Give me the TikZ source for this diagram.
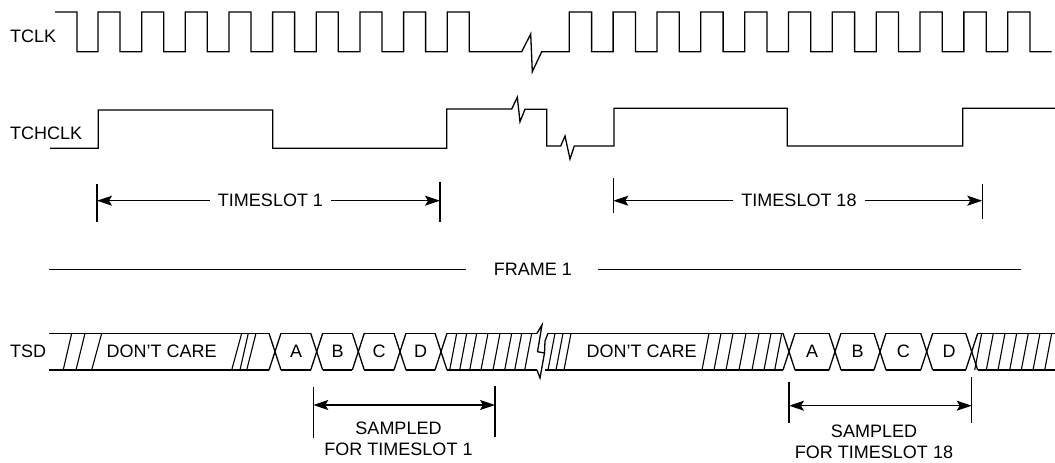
\documentclass[tikz,border=0pt]{standalone}
\usepackage{fontspec}
\setmainfont{Liberation Sans}
\usetikzlibrary{arrows.meta}
\tikzset{
  wave/.style={line width=1.3pt, line join=miter},
  thin/.style={line width=1.1pt},
  dimarrow/.style={line width=1.1pt, {Stealth[length=15pt,width=10pt,inset=3pt]}-{Stealth[length=15pt,width=10pt,inset=3pt]}},
  onearrow/.style={line width=1.1pt, -{Stealth[length=15pt,width=10pt,inset=3pt]}},
  lbl/.style={font=\fontsize{18}{21}\selectfont, inner sep=0pt},
  gaplbl/.style={font=\fontsize{18}{21}\selectfont, inner xsep=8pt, inner ysep=0pt}
}
\begin{document}
\begin{tikzpicture}[x=1pt,y=-1pt]
\useasboundingbox (0,0) rectangle (1055,463);

% ---------- labels ----------
\node[lbl, anchor=west] (tclk) at (10,36.7) {TCLK};
\node[lbl, anchor=west] (tchclk) at (10,133.3) {TCHCLK};
\node[lbl, anchor=west] (tsd) at (10,351.7) {TSD};

% ---------- TCLK ----------
\draw[wave] (55,12) -- (77,12) -- (77,51.7)
  \foreach \k in {0,...,8} {
    -- ({98+43.66*\k},51.7) -- ({98+43.66*\k},12)
    -- ({120+43.66*\k},12) -- ({120+43.66*\k},51.7) }
  -- (521.7,51.7) -- (530.7,34) -- (532.3,71.7) -- (541.7,51.7) -- (569.3,51.7)
  \foreach \k in {0,...,10} {
    -- ({569.3+43.84*\k},51.7) -- ({569.3+43.84*\k},12)
    -- ({591.6+43.84*\k},12) -- ({591.6+43.84*\k},51.7) }
  -- (1051.7,51.7);

% ---------- TCHCLK ----------
\draw[wave] (50,148.3) -- (98.3,148.3) -- (98.3,110) -- (272.7,110) -- (272.7,148.3)
  -- (446.7,148.3) -- (446.7,109) -- (511.7,109) -- (517.3,97.3) -- (520,121.7)
  -- (525,109.3) -- (546.7,109.3) -- (546.7,146) -- (560.7,146) -- (565,136)
  -- (570,159) -- (574.3,146) -- (614,146) -- (614,108.3) -- (787.3,108.3)
  -- (787.3,146) -- (962.7,146) -- (962.7,108.3) -- (1055,108.3);

% ---------- TIMESLOT 1 ----------
\coordinate (t1a) at (97,184);   \coordinate (t1b) at (97,222.3);
\coordinate (t1c) at (440,181.7); \coordinate (t1d) at (440,221.7);
\coordinate (t1l) at (97,200.7);  \coordinate (t1r) at (440,200.7);
\draw[thin] (t1a) -- (t1b);
\draw[thin] (t1c) -- (t1d);
\node[gaplbl] (ts1) at (270.5,200.7) {TIMESLOT 1};
\draw[onearrow] (ts1.west) -- (t1l);
\draw[onearrow] (ts1.east) -- (t1r);

% ---------- TIMESLOT 18 ----------
\coordinate (t2a) at (613.3,178.3); \coordinate (t2b) at (613.3,212.7);
\coordinate (t2c) at (982.3,184);   \coordinate (t2d) at (982.3,219.3);
\coordinate (t2l) at (613.3,200.7); \coordinate (t2r) at (982.3,200.7);
\draw[thin] (t2a) -- (t2b);
\draw[thin] (t2c) -- (t2d);
\node[gaplbl] (ts18) at (799,200.7) {TIMESLOT 18};
\draw[onearrow] (ts18.west) -- (t2l);
\draw[onearrow] (ts18.east) -- (t2r);

% ---------- FRAME 1 ----------
\node[lbl] (frame) at (533,269.3) {FRAME 1};
\coordinate (fa) at (48.7,269.3); \coordinate (fb) at (466,269.3);
\coordinate (fc) at (598.3,269.3); \coordinate (fd) at (1020.7,269.3);
\draw[thin] (fa) -- (fb);
\draw[thin] (fc) -- (fd);

% ---------- TSD bus ----------
\def\yt{333.3}\def\yb{370}
\draw[wave] (49.3,\yt) -- (269,\yt);
\draw[wave] (49.3,\yb) -- (269,\yb);
\foreach \x in {275,316.7,358.3,400,441,789,835,880,926.7,971.7} {
  \draw[wave] ({\x-6},\yt) -- ({\x+6},\yb);
  \draw[wave] ({\x-6},\yb) -- ({\x+6},\yt);
}
\foreach \a/\b in {281/310.7,322.7/352.3,364.3/394,406/435} {
  \draw[wave] (\a,\yt) -- (\b,\yt);
  \draw[wave] (\a,\yb) -- (\b,\yb);
}
\foreach \a/\b in {795/829,841/874,886/920.7,932.7/965.7} {
  \draw[wave] (\a,\yt) -- (\b,\yt);
  \draw[wave] (\a,\yb) -- (\b,\yb);
}
\draw[wave] (447,\yt) -- (537,\yt);
\draw[wave] (447,\yb) -- (537,\yb);
\draw[wave] (548,\yt) -- (783,\yt);
\draw[wave] (545,\yb) -- (783,\yb);
\draw[wave] (977.7,\yt) -- (1055,\yt);
\draw[wave] (977.7,\yb) -- (1055,\yb);
% break
\draw[wave] (537,\yt) -- (542,325) -- (537.5,351.7) -- (544.5,353) -- (540,378) -- (537,\yb);
\draw[wave] (548,\yt) -- (545,341) -- (544.5,353);
% hatches
\foreach \t/\s in {71.7/8.5,85/9,101.7/10,241.7/10,248.3/8.3,256/9.3} {
  \draw[thin] ({\t-\s},\yb) -- (\t,\yt);
}
\foreach \t in {456.7,466.7,476.7,488,500,511.7,521.7,531.7,555,563,571,
                709,721,733,746,759,771,781.7,
                981.7,993.3,1005,1016.7,1028.3,1040,1051.7} {
  \draw[thin] ({\t-7},\yb) -- (\t,\yt);
}
% texts
\node[lbl] (dc1) at (161.7,351.7) {DON’T CARE};
\node[lbl] (dc2) at (641.7,351.7) {DON’T CARE};
\node[lbl] (a1) at (296,351.7) {A};
\node[lbl] (b1) at (337.5,351.7) {B};
\node[lbl] (c1) at (379.2,351.7) {C};
\node[lbl] (d1) at (420.5,351.7) {D};
\node[lbl] (a2) at (812,351.7) {A};
\node[lbl] (b2) at (857.5,351.7) {B};
\node[lbl] (c2) at (903.3,351.7) {C};
\node[lbl] (d2) at (949.2,351.7) {D};

% ---------- SAMPLED 1 ----------
\coordinate (s1a) at (313.3,387.3); \coordinate (s1b) at (313.3,438.3);
\coordinate (s1c) at (495,386);     \coordinate (s1d) at (495,436.7);
\coordinate (s1l) at (313.3,405);   \coordinate (s1r) at (495,405);
\draw[thin] (s1a) -- (s1b);
\draw[thin] (s1c) -- (s1d);
\draw[dimarrow] (s1l) -- (s1r);
\node[lbl, align=center] (samp1) at (398.5,439) {SAMPLED\\FOR TIMESLOT 1};

% ---------- SAMPLED 18 ----------
\coordinate (s2a) at (789,381.7);   \coordinate (s2b) at (789,422.7);
\coordinate (s2c) at (971.7,377.3); \coordinate (s2d) at (971.7,422.7);
\coordinate (s2l) at (789,405.7);   \coordinate (s2r) at (971.7,405.7);
\draw[thin] (s2a) -- (s2b);
\draw[thin] (s2c) -- (s2d);
\draw[dimarrow] (s2l) -- (s2r);
\node[lbl, align=center] (samp2) at (874,441.5) {SAMPLED\\FOR TIMESLOT 18};
\end{tikzpicture}
\end{document}
